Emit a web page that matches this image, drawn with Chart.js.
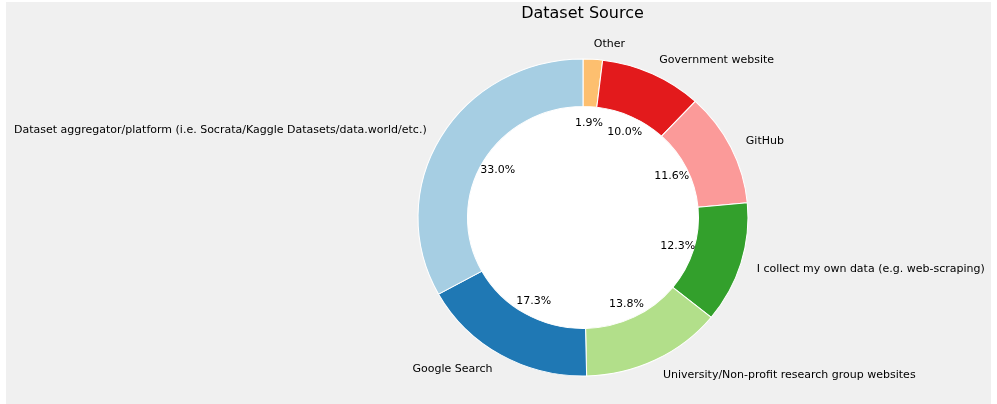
<!DOCTYPE html>
<html>
<head>
<meta charset="utf-8">
<script src="https://cdn.jsdelivr.net/npm/chart.js@4/dist/chart.umd.min.js"></script>
<style>
html,body{margin:0;padding:0;background:#ffffff;}
#wrap{width:997px;height:404px;position:relative;}
</style>
</head>
<body>
<div id="wrap"><canvas id="c" width="997" height="404"></canvas></div>
<script>
const chartTitle = "Dataset Source";
const categories = [
  "Dataset aggregator/platform (i.e. Socrata/Kaggle Datasets/data.world/etc.)",
  "Google Search",
  "University/Non-profit research group websites",
  "I collect my own data (e.g. web-scraping)",
  "GitHub",
  "Government website",
  "Other"
];
const values = [33.0, 17.3, 13.8, 12.3, 11.6, 10.0, 1.9];
const colors = ["#a6cee3", "#1f78b4", "#b2df8a", "#33a02c", "#fb9a99", "#e31a1c", "#fdbf6f"];

// matplotlib draws counter-clockwise from the top; Chart.js draws clockwise -> reverse
const cjLabels = categories.slice().reverse();
const cjValues = values.slice().reverse();
const cjColors = colors.slice().reverse();

const SX = 1.041; // horizontal stretch of the reference image
const FONT = "'DejaVu Sans', sans-serif";

const decor = {
  id: 'decor',
  beforeDraw(chart) {
    const ctx = chart.ctx;
    ctx.save();
    ctx.fillStyle = '#ffffff';
    ctx.fillRect(0, 0, chart.width, chart.height);
    ctx.fillStyle = '#f0f0f0';
    ctx.fillRect(6, 2, 985, 402);
    ctx.restore();
  },
  beforeDatasetsDraw(chart) {
    const ctx = chart.ctx;
    const arc = chart.getDatasetMeta(0).data[0];
    if (!arc) return;
    const cx = arc.x, cy = arc.y;
    ctx.save();
    ctx.translate(cx, cy);
    ctx.scale(SX, 1);
    ctx.translate(-cx, -cy);
    // white hole
    ctx.fillStyle = '#ffffff';
    ctx.beginPath();
    ctx.arc(cx, cy, arc.innerRadius, 0, Math.PI * 2);
    ctx.fill();
  },
  afterDatasetsDraw(chart) {
    const ctx = chart.ctx;
    ctx.restore();
    const meta = chart.getDatasetMeta(0);
    ctx.save();
    ctx.fillStyle = '#000000';
    ctx.font = '11px ' + FONT;
    meta.data.forEach((a, i) => {
      const mid = (a.startAngle + a.endAngle) / 2;
      const R = a.outerRadius;
      const c = Math.cos(mid), s = Math.sin(mid);
      // outer label
      const lx = a.x + 1.1 * R * c * SX;
      const ly = a.y + 1.1 * R * s + 1;
      ctx.textBaseline = 'middle';
      ctx.textAlign = c > 0 ? 'left' : 'right';
      ctx.fillText(cjLabels[i], lx, ly);
      // percentage
      const px = a.x + 0.6 * R * c * SX;
      const py = a.y + 0.6 * R * s + 1;
      ctx.textAlign = 'center';
      ctx.fillText(cjValues[i].toFixed(1) + '%', px, py);
    });
    ctx.font = '16px ' + FONT;
    ctx.textAlign = 'center';
    ctx.textBaseline = 'alphabetic';
    ctx.fillText(chartTitle, 582.5, 17.5);
    ctx.restore();
  }
};

new Chart(document.getElementById('c'), {
  type: 'doughnut',
  data: {
    labels: cjLabels,
    datasets: [{
      data: cjValues,
      backgroundColor: cjColors,
      borderColor: '#ffffff',
      borderWidth: 1,
      borderAlign: 'center',
      hoverOffset: 0
    }]
  },
  options: {
    responsive: false,
    animation: false,
    cutout: '70%',
    rotation: 0,
    layout: { padding: { left: 424, right: 255, top: 58.5, bottom: 27.5 } },
    plugins: {
      legend: { display: false },
      title: { display: false },
      tooltip: { enabled: false }
    }
  },
  plugins: [decor]
});
</script>
</body>
</html>
